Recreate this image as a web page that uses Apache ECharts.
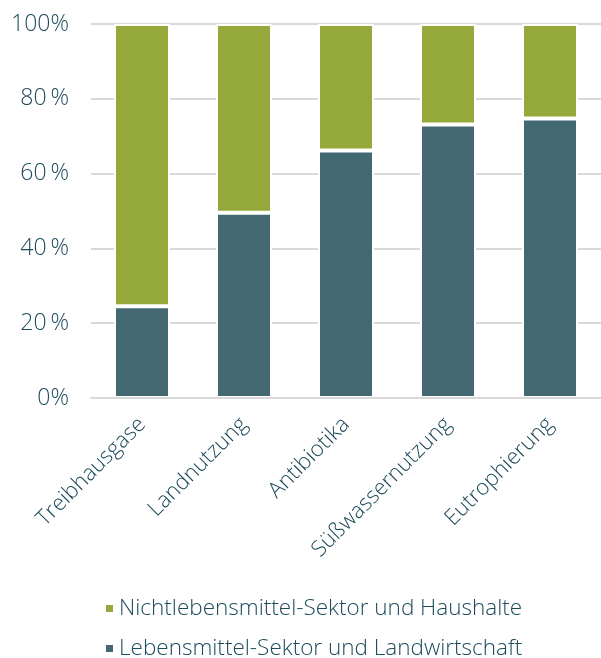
<!DOCTYPE html>
<html>
<head>
<meta charset="utf-8">
<script src="https://cdn.jsdelivr.net/npm/echarts@6/dist/echarts.min.js"></script>
<style>html,body{margin:0;padding:0;background:#fff;}#c{width:601px;height:658px;}</style>
</head>
<body>
<div id="c"></div>
<script>
const categories = ['Treibhausgase', 'Landnutzung', 'Antibiotika', 'Süßwassernutzung', 'Eutrophierung'];
const foodSector = [24.5, 49.5, 66.2, 73.1, 74.7];
const nonFoodSector = [75.5, 50.5, 33.8, 26.9, 25.3];
const yTickLabels = {0: '0%', 20: '20\u2009%', 40: '40\u2009%', 60: '60\u2009%', 80: '80\u2009%', 100: '100%'};
const seriesNames = ['Nichtlebensmittel-Sektor und Haushalte', 'Lebensmittel-Sektor und Landwirtschaft'];

const textColor = '#1d4b5b';
const font = "'Open Sans', 'Noto Sans', sans-serif";
const chart = echarts.init(document.getElementById('c'), null, {renderer: 'canvas'});
chart.setOption({
  animation: false,
  backgroundColor: '#fff',
  grid: {left: 91, right: 0, top: 24, bottom: 260, containLabel: false},
  legend: {
    orient: 'vertical',
    left: 104,
    top: 597,
    height: 100,
    padding: 0,
    itemWidth: 9,
    itemHeight: 9,
    itemGap: 17,
    icon: 'rect',
    data: seriesNames,
    textStyle: {color: textColor, fontSize: 22.5, fontWeight: 300, fontFamily: font, padding: [0, 0, 0, 0]}
  },
  xAxis: {
    type: 'category',
    data: categories,
    z: 5,
    axisLine: {show: true, lineStyle: {color: '#d9d9d9', width: 2}},
    axisTick: {show: false},
    axisLabel: {rotate: 45, margin: 23, color: textColor, fontSize: 22, fontWeight: 300, fontFamily: font}
  },
  yAxis: {
    type: 'value',
    min: 0, max: 100, interval: 20,
    axisLine: {show: false},
    axisTick: {show: false},
    splitLine: {lineStyle: {color: '#d9d9d9', width: 2}},
    axisLabel: {margin: 22, color: textColor, fontSize: 23, fontWeight: 300, fontFamily: font,
      formatter: v => yTickLabels[v]}
  },
  series: [
    {
      name: seriesNames[1], type: 'bar', stack: 's', data: foodSector,
      barWidth: 56,
      itemStyle: {color: '#436872', borderColor: '#fff', borderWidth: 2}
    },
    {
      name: seriesNames[0], type: 'bar', stack: 's', data: nonFoodSector,
      barWidth: 56,
      itemStyle: {color: '#95a83a', borderColor: '#fff', borderWidth: 2}
    }
  ]
});
</script>
</body>
</html>
